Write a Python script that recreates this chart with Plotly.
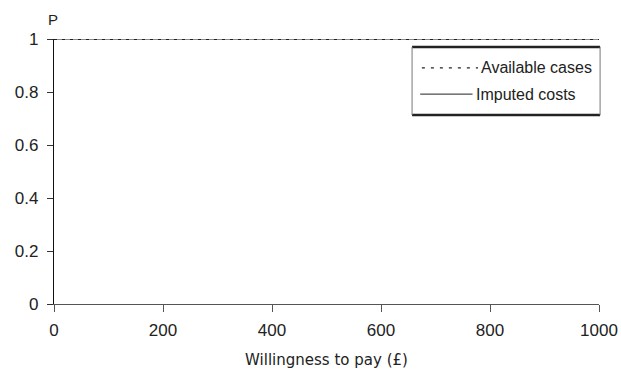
import plotly.graph_objects as go

wtp = [0, 100, 200, 300, 400, 500, 600, 700, 800, 900, 1000]
p_available = [1, 1, 1, 1, 1, 1, 1, 1, 1, 1, 1]
p_imputed = [1, 1, 1, 1, 1, 1, 1, 1, 1, 1, 1]
series_names = ["Available cases", "Imputed costs"]
x_ticks = [0, 200, 400, 600, 800, 1000]
y_ticks = [0, 0.2, 0.4, 0.6, 0.8, 1]
y_tick_labels = ["0", "0.2", "0.4", "0.6", "0.8", "1"]

fig = go.Figure()
fig.add_trace(go.Scatter(x=wtp, y=p_imputed, mode="lines", name=series_names[1],
                         line=dict(color="#666666", width=1.5), cliponaxis=False,
                         showlegend=False))
fig.add_trace(go.Scatter(x=wtp, y=p_available, mode="lines", name=series_names[0],
                         line=dict(color="#222222", width=1.8, dash="3px,5px"),
                         cliponaxis=False, showlegend=False))

fnt = "Liberation Sans, Arial, sans-serif"

fig.update_layout(
    width=621, height=372,
    margin=dict(l=54, r=22, t=39, b=68, autoexpand=False),
    paper_bgcolor="white", plot_bgcolor="white",
    showlegend=False,
    xaxis=dict(range=[0, 1000], tickvals=x_ticks, ticks="outside", ticklen=7,
               tickcolor="#555555", showline=True, linecolor="#555555", linewidth=1.2,
               showgrid=False, zeroline=False, automargin=False, ticklabelstandoff=3,
               tickfont=dict(family=fnt, size=17, color="#222222"),
               title=dict(text="Willingness to pay (£)",
                          font=dict(family="DejaVu Sans, Verdana, sans-serif", size=15, color="#222222"),
                          standoff=15)),
    yaxis=dict(range=[0, 1], tickvals=y_ticks, ticktext=y_tick_labels, ticks="outside",
               ticklen=6, tickcolor="#333333", showline=True, linecolor="#111111",
               linewidth=1.2, showgrid=False, zeroline=False, automargin=False,
               ticklabelstandoff=5,
               tickfont=dict(family=fnt, size=17, color="#222222")),
)

# "P" axis label
fig.add_annotation(text="P", x=-0.002, y=1.075, xref="paper", yref="paper",
                   xanchor="center", yanchor="middle",
                   showarrow=False, font=dict(family=fnt, size=15, color="#222222"))

# custom legend box
lx0, lx1, ly0, ly1 = 0.657, 1.002, 0.713, 0.970
fig.add_shape(type="line", xref="paper", yref="paper", x0=lx0, x1=lx1, y0=ly1, y1=ly1,
              line=dict(color="#222222", width=2.5))
fig.add_shape(type="line", xref="paper", yref="paper", x0=lx0, x1=lx1, y0=ly0, y1=ly0,
              line=dict(color="#222222", width=2.5))
fig.add_shape(type="line", xref="paper", yref="paper", x0=lx0, x1=lx0, y0=ly0, y1=ly1,
              line=dict(color="#777777", width=1))
fig.add_shape(type="line", xref="paper", yref="paper", x0=lx1, x1=lx1, y0=ly0, y1=ly1,
              line=dict(color="#777777", width=1))
# sample lines
fig.add_shape(type="line", xref="paper", yref="paper", x0=0.675, x1=0.778, y0=0.891, y1=0.891,
              line=dict(color="#222222", width=1.2, dash="3px,6px"))
fig.add_shape(type="line", xref="paper", yref="paper", x0=0.672, x1=0.768, y0=0.792, y1=0.792,
              line=dict(color="#222222", width=1))
fig.add_annotation(text=series_names[0], x=0.779, y=0.891, xref="paper", yref="paper",
                   xanchor="left", yanchor="middle", showarrow=False,
                   font=dict(family=fnt, size=16, color="#222222"))
fig.add_annotation(text=series_names[1], x=0.770, y=0.792, xref="paper", yref="paper",
                   xanchor="left", yanchor="middle", showarrow=False,
                   font=dict(family=fnt, size=16, color="#222222"))

fig.write_html("out.html", config={"displayModeBar": False},
               post_script="document.body.style.margin='0';")
